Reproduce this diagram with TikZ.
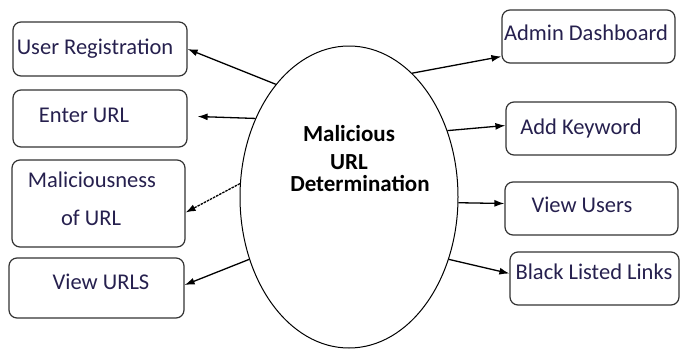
\documentclass[tikz,border=0pt]{standalone}
\usepackage{fontspec}
\setmainfont{Carlito}
\usetikzlibrary{shapes.geometric,arrows.meta}
\definecolor{labelblue}{RGB}{38,32,78}
\tikzset{
  box/.style={draw=black!80, line width=1.2pt, rounded corners=8pt},
  lbl/.style={text=labelblue, anchor=base, inner sep=0pt, font=\fontsize{22.5}{25}\selectfont},
  ctr/.style={anchor=base, inner sep=0pt, font=\bfseries\fontsize{23}{25}\selectfont},
  flow/.style={-{Latex[length=10pt,width=7pt]}, line width=1.3pt}
}
\begin{document}
\begin{tikzpicture}[x=1pt,y=-1pt]
\useasboundingbox (0,0) rectangle (680,349);

% centre
\node[draw, ellipse, line width=1pt, minimum width=218pt, minimum height=302pt] (core) at (349,197) {};
\node[ctr] (core-a) at (349,141) {Malicious};
\node[ctr] (core-b) at (349,169) {URL};
\node[ctr] (core-c) at (360,191) {Determination};

% user side
\node[box, minimum width=174pt, minimum height=54pt] (ureg) at (100,49) {};
\node[box, minimum width=174pt, minimum height=57pt] (enter) at (100,118.5) {};
\node[box, minimum width=173pt, minimum height=87pt] (mal) at (98.5,203.5) {};
\node[box, minimum width=175pt, minimum height=60pt] (vurl) at (96.5,288) {};

\node[lbl] (ureg-t) at (95,54) {User Registration};
\node[lbl] (enter-t) at (84,122) {Enter URL};
\node[lbl] (mal-t) at (92,187) {Maliciousness};
\node[lbl] (mal-u) at (91,225) {of URL};
\node[lbl] (vurl-t) at (101,289) {View URLS};

% admin side
\node[box, minimum width=173pt, minimum height=53pt] (admin) at (588.5,36.5) {};
\node[box, minimum width=170pt, minimum height=53pt] (addk) at (591,128.5) {};
\node[box, minimum width=173pt, minimum height=53pt] (vusr) at (591.5,208.5) {};
\node[box, minimum width=169pt, minimum height=53pt] (black) at (594.5,278.5) {};

\node[lbl] (admin-t) at (586,40) {Admin Dashboard};
\node[lbl] (addk-t) at (581,134) {Add Keyword};
\node[lbl] (vusr-t) at (582,212) {View Users};
\node[lbl] (black-t) at (594,279) {Black Listed Links};

% arrows
\draw[flow] (core.123) -- (ureg.east);
\draw[flow] (core.140) -- ([xshift=10pt,yshift=2pt]enter.east);
\draw[flow, dash pattern=on 2.5pt off 1pt] (core.173) -- ([yshift=-9pt]mal.east);
\draw[flow] (core.212) -- ([yshift=3pt]vurl.east);
\draw[flow] (core.63) -- ([yshift=-20pt]admin.west);
\draw[flow] (core.34) -- ([yshift=3pt]addk.west);
\draw[flow] (core.-3) -- ([yshift=5pt]vusr.west);
\draw[flow] (core.-32) -- ([yshift=5pt]black.west);
\end{tikzpicture}
\end{document}
